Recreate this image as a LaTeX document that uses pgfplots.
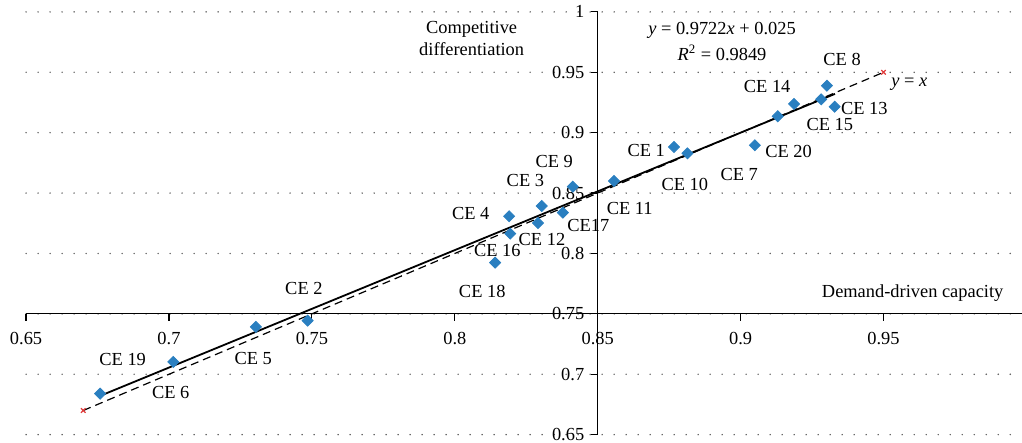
\documentclass[border=0pt]{standalone}
\usepackage{fontspec}
\setmainfont{Liberation Serif}
\usepackage{pgfplots}
\pgfplotsset{compat=1.18}
\definecolor{ptblue}{HTML}{2A7FC0}
\definecolor{xred}{HTML}{E03C3C}
\begin{document}
\fontsize{9.2}{11}\selectfont
\begin{tikzpicture}
\begin{axis}[
  scale only axis, width=497.9pt, height=211.35pt,
  xmin=0.65, xmax=0.99846, ymin=0.65, ymax=1,
  axis x line=bottom, axis y line=left,
  axis x line shift=-60.39pt, axis y line shift=-285.8pt,
  axis line style={-, line width=0.6pt, black},
  xtick={0.65,0.7,0.75,0.8,0.85,0.9,0.95},
  ytick={0.65,0.7,0.75,0.8,0.85,0.9,0.95,1},
  tick align=outside, major tick length=3.5pt,
  tick style={line width=0.6pt, black},
  ymajorgrids=true,
  major grid style={black!65, line width=0.8pt, line cap=round, dash pattern=on 0pt off 6pt},
  /pgf/number format/assume math mode=true,
  ticklabel style={font=\fontsize{9.2}{11}\selectfont},
  xticklabel style={yshift=-2.5pt},
  clip=false,
]
\coordinate (bbl) at (axis cs:0.64087,0.64313);
\coordinate (btr) at (axis cs:0.99846,1.00985);
% y = x reference
\addplot[black, line width=0.6pt, dash pattern=on 4pt off 2.5pt, mark=x, mark size=1.6pt, mark options={xred, solid, line width=0.6pt}] coordinates {(0.67,0.67) (0.95,0.95)};
% regression
\addplot[black, line width=0.9pt, no marks] coordinates {(0.676,0.6822) (0.933,0.9321)};
% data
\addplot[only marks, mark=square*, mark size=1.95pt, color=ptblue, mark options={rotate=45, fill=ptblue, draw=ptblue}] coordinates {
(0.6759,0.6839) (0.7015,0.7102) (0.7304,0.7392) (0.7485,0.7444)
(0.8141,0.7924) (0.8194,0.8164) (0.8190,0.8308) (0.8291,0.8252)
(0.8304,0.8393) (0.8378,0.8338) (0.8413,0.8553) (0.8557,0.8600)
(0.8767,0.8882) (0.8814,0.8829) (0.9050,0.8896) (0.9130,0.9136)
(0.9187,0.9238) (0.9282,0.9276) (0.9302,0.9389) (0.9329,0.9215)
};
\node at (axis cs:0.6838,0.7124) {CE 19};
\node at (axis cs:0.7006,0.6851) {CE 6};
\node at (axis cs:0.7295,0.7132) {CE 5};
\node at (axis cs:0.7472,0.7709) {CE 2};
\node[align=center] at (axis cs:0.8059,0.9781) {Competitive\\differentiation};
\node at (axis cs:0.8348,0.8763) {CE 9};
\node at (axis cs:0.8247,0.8606) {CE 3};
\node at (axis cs:0.8056,0.8333) {CE 4};
\node at (axis cs:0.8149,0.8021) {CE 16};
\node at (axis cs:0.8305,0.8112) {CE 12};
\node at (axis cs:0.8467,0.8233) {CE17};
\node at (axis cs:0.8096,0.7684) {CE 18};
\node at (axis cs:0.8670,0.8854) {CE 1};
\node at (axis cs:0.8612,0.8374) {CE 11};
\node at (axis cs:0.8805,0.8575) {CE 10};
\node at (axis cs:0.8995,0.8650) {CE 7};
\node at (axis cs:0.9168,0.8846) {CE 20};
\node at (axis cs:0.9312,0.9064) {CE 15};
\node at (axis cs:0.9433,0.9204) {CE 13};
\node at (axis cs:0.9093,0.9381) {CE 14};
\node at (axis cs:0.9355,0.9608) {CE 8};
\node at (axis cs:0.9590,0.9403) {\textit{y} = \textit{x}};
\node at (axis cs:0.8935,0.9850) {\textit{y} = 0.9722\textit{x} + 0.025};
\node at (axis cs:0.8935,0.9660) {\textit{R}\textsuperscript{2} = 0.9849};
\node at (axis cs:0.9602,0.7671) {Demand-driven capacity};
\end{axis}
\pgfresetboundingbox
\path[use as bounding box] (bbl) rectangle (btr);
\end{tikzpicture}
\end{document}
